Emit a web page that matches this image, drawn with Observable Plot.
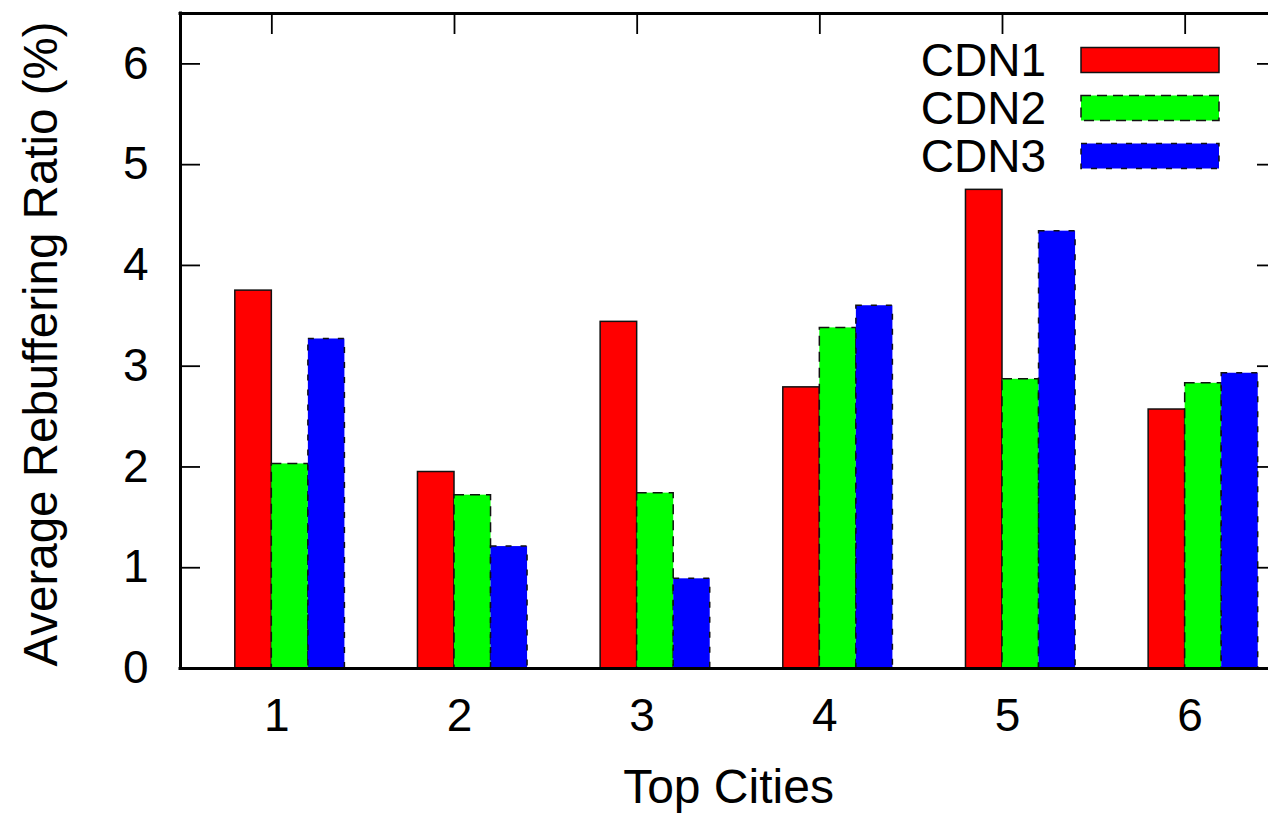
<!DOCTYPE html>
<html><head><meta charset="utf-8">
<script src="https://cdn.jsdelivr.net/npm/d3@7"></script>
<script src="https://cdn.jsdelivr.net/npm/@observablehq/plot@0.6"></script>
<style>
html,body{margin:0;padding:0;overflow:hidden;background:#fff}
#chart{position:relative;width:1268px;height:814px}
#chart svg{display:block}
</style>
</head><body><div id="chart"></div>
<script>
const cities = [1, 2, 3, 4, 5, 6];
const series = ["CDN1", "CDN2", "CDN3"];
const cdn1 = [3.75, 1.95, 3.44, 2.79, 4.75, 2.57];
const cdn2 = [2.03, 1.72, 1.74, 3.38, 2.87, 2.83];
const cdn3 = [3.27, 1.21, 0.89, 3.60, 4.34, 2.93];
const yTicks = [0, 1, 2, 3, 4, 5, 6];
const xLabel = "Top Cities";
const yLabel = "Average Rebuffering Ratio (%)";

const colors = ["#ff0000", "#00ff00", "#0000ff"];
const dashes = [null, "10,6", "6,9"];
const values = [cdn1, cdn2, cdn3];
const barW = 0.2; // gnuplot clustered histogram, gap 2
const rows = [];
series.forEach((s, j) => cities.forEach((c, i) => rows.push({series: s, j, city: c, value: values[j][i]})));

const font = "'Liberation Sans', Arial, Helvetica, sans-serif";

const barMarks = series.map((s, j) => Plot.rect(rows.filter(d => d.j === j), {
  x1: d => d.city + (j - 1) * barW,
  x2: d => d.city + j * barW,
  y1: 0,
  y2: "value",
  fill: colors[j],
  stroke: "#111",
  strokeWidth: 1.5,
  strokeDasharray: dashes[j]
}));

const plot = Plot.plot({
  width: 1268, height: 814,
  marginTop: 13, marginBottom: 146, marginLeft: 180, marginRight: 0,
  style: {fontFamily: font, fontSize: "46px", color: "#000", background: "transparent", overflow: "visible"},
  x: {type: "linear", domain: [0.5, 6.5], range: [180, 1276]},
  y: {domain: [0, 6.5]},
  marks: [
    Plot.axisX({anchor: "bottom", ticks: cities, tickSize: 20, dy: -20, tickFormat: () => "", strokeWidth: 1.8, label: null}),
    ...barMarks,
    Plot.axisX({anchor: "top", ticks: cities, tickSize: 20, dy: 20, tickFormat: () => "", strokeWidth: 1.8, label: null}),
    Plot.axisX({anchor: "bottom", ticks: cities, tickSize: 0, tickPadding: 30, dx: 5, tickFormat: d => String(d), label: null}),
    Plot.axisY({anchor: "left", ticks: yTicks, tickSize: 20, dx: 20, tickFormat: () => "", strokeWidth: 1.8, label: null}),
    Plot.axisY({anchor: "right", ticks: yTicks, tickSize: 20, dx: -12, tickFormat: () => "", strokeWidth: 1.8, label: null}),
    Plot.axisY({anchor: "left", ticks: yTicks, tickSize: 0, tickPadding: 32, tickFormat: d => String(d), label: null}),
    Plot.ruleY([0], {strokeWidth: 3, strokeLinecap: "square"}),
    Plot.ruleY([6.5], {strokeWidth: 3, strokeLinecap: "square"}),
    Plot.ruleX([0.5], {strokeWidth: 3, strokeLinecap: "square"}),
    Plot.text([xLabel], {frameAnchor: "bottom", textAnchor: "middle", lineAnchor: "bottom", dy: 134, dx: 4, fontSize: 48}),
    Plot.text([yLabel], {frameAnchor: "left", textAnchor: "middle", rotate: -90, dx: -139, dy: 3, fontSize: 47.5})
  ]
});
document.getElementById("chart").appendChild(plot);

// legend (inside plot, top-right)
const leg = d3.select("#chart").append("svg")
  .attr("width", 1268).attr("height", 814)
  .style("position", "absolute").style("left", "0px").style("top", "0px")
  .style("font-family", font).style("font-size", "46px");
series.forEach((s, j) => {
  const cy = 60 + j * 48;
  leg.append("text").attr("x", 1046).attr("y", cy + 16).attr("text-anchor", "end").attr("fill", "#000").text(s);
  leg.append("rect").attr("x", 1081).attr("y", cy - 12.5).attr("width", 138).attr("height", 25)
    .attr("fill", colors[j]).attr("stroke", "#111").attr("stroke-width", 1.5)
    .attr("stroke-dasharray", dashes[j]);
});
</script>
</body></html>
